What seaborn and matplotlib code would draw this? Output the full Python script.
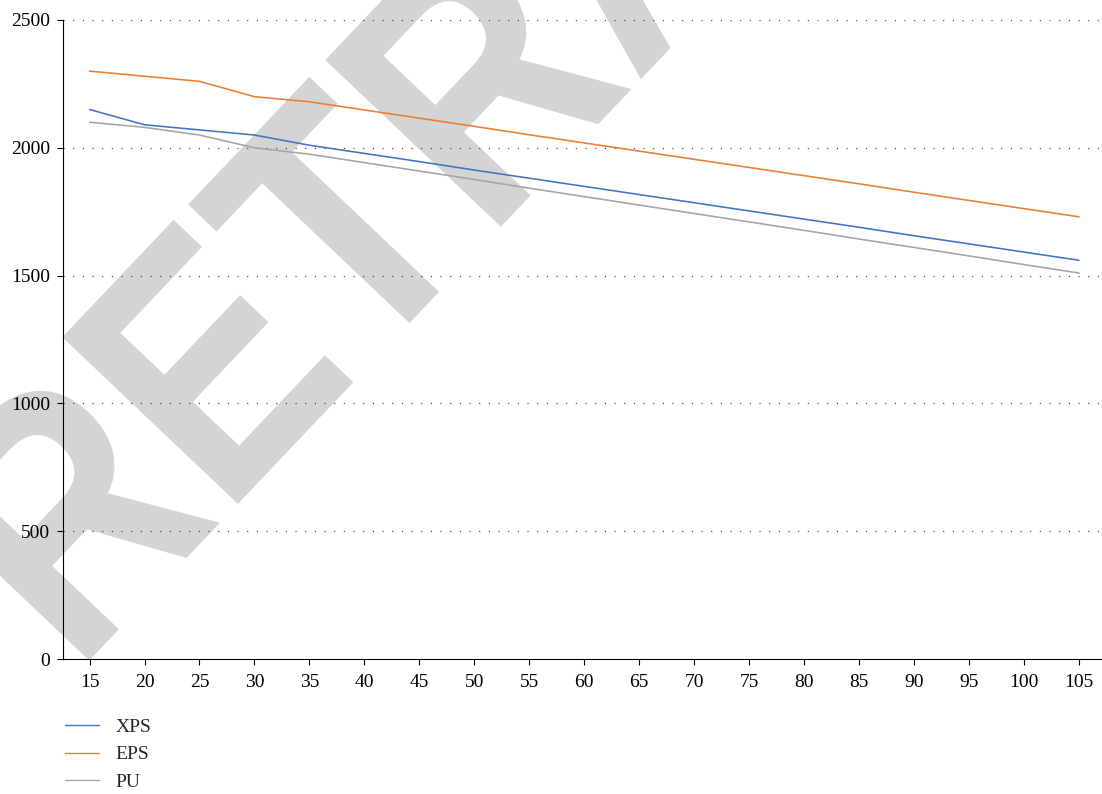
import matplotlib
matplotlib.use("Agg")
import matplotlib.pyplot as plt
import matplotlib.transforms as mtransforms
from matplotlib.textpath import TextPath
from matplotlib.patches import PathPatch
from matplotlib.font_manager import FontProperties
import seaborn as sns
import pandas as pd

# Thickness values (categories on the x axis)
thickness = [15, 20, 25, 30, 35, 40, 45, 50, 55, 60, 65, 70, 75, 80, 85, 90, 95, 100, 105]

xps = [2150, 2090, 2070, 2050, 2010, 1978, 1946, 1913, 1881, 1849, 1817, 1785,
       1753, 1721, 1689, 1656, 1624, 1592, 1560]
eps = [2300, 2280, 2260, 2200, 2180, 2148, 2116, 2084, 2051, 2019, 1987, 1955,
       1923, 1891, 1859, 1826, 1794, 1762, 1730]
pu = [2100, 2080, 2050, 2000, 1975, 1942, 1909, 1876, 1842, 1809, 1776, 1743,
      1710, 1677, 1643, 1610, 1577, 1543, 1510]

series_names = ["XPS", "EPS", "PU"]
series_colors = ["#4472C4", "#ED7D31", "#A5A5A5"]
y_ticks = [0, 500, 1000, 1500, 2000, 2500]

df = pd.concat([
    pd.DataFrame({"thickness": thickness, "value": vals, "material": name})
    for name, vals in zip(series_names, [xps, eps, pu])
], ignore_index=True)

sns.set_style("ticks")
plt.rcParams["font.family"] = ["Liberation Serif", "DejaVu Serif"]

W, H, DPI = 1102, 794, 100
fig = plt.figure(figsize=(W / DPI, H / DPI), dpi=DPI, facecolor="white")
ax = fig.add_axes([62.5 / W, (H - 659) / H, (1101 - 62.5) / W, (659 - 20) / H])
ax.set_facecolor("none")

# Diagonal watermark behind the plot
fp = FontProperties(family="Liberation Sans", weight="bold")
tp = TextPath((0, 0), "RETRACTED", size=1, prop=fp)
tr = (mtransforms.Affine2D().scale(299, 352).rotate_deg(46.5)
      .translate(75.5, H - 675))
wm = PathPatch(tr.transform_path(tp), facecolor="#d4d4d4", edgecolor="none",
               transform=mtransforms.IdentityTransform(), zorder=-5)
fig.add_artist(wm)

sns.lineplot(data=df, x="thickness", y="value", hue="material",
             hue_order=series_names, palette=series_colors,
             linewidth=1.15, ax=ax, legend=False, zorder=3)

ax.set_xlim(12.54, 107.0)
ax.set_ylim(0, 2500)
ax.set_xticks(thickness)
ax.set_yticks(y_ticks)
ax.set_xlabel("")
ax.set_ylabel("")

ax.yaxis.grid(True, color="#333333", linewidth=0.8, linestyle=(0, (1, 7.7)))
ax.set_axisbelow(True)

for side in ["top", "right"]:
    ax.spines[side].set_visible(False)
for side in ["left", "bottom"]:
    ax.spines[side].set_linewidth(0.8)
    ax.spines[side].set_color("black")

ax.tick_params(axis="both", which="major", labelsize=14, colors="black",
               length=4.5, width=0.8, direction="out")
ax.tick_params(axis="y", pad=4.5)
ax.tick_params(axis="x", pad=6)

handles = [plt.Line2D([], [], color=c, linewidth=1.0) for c in series_colors]
fig.legend(handles, series_names, loc="upper left",
           bbox_to_anchor=(65 / W, (H - 718) / H),
           frameon=False, fontsize=14, handlelength=1.75,
           handletextpad=0.85, labelspacing=0.52, borderpad=0,
           borderaxespad=0)

fig.savefig("out.png", dpi=DPI, facecolor="white")
